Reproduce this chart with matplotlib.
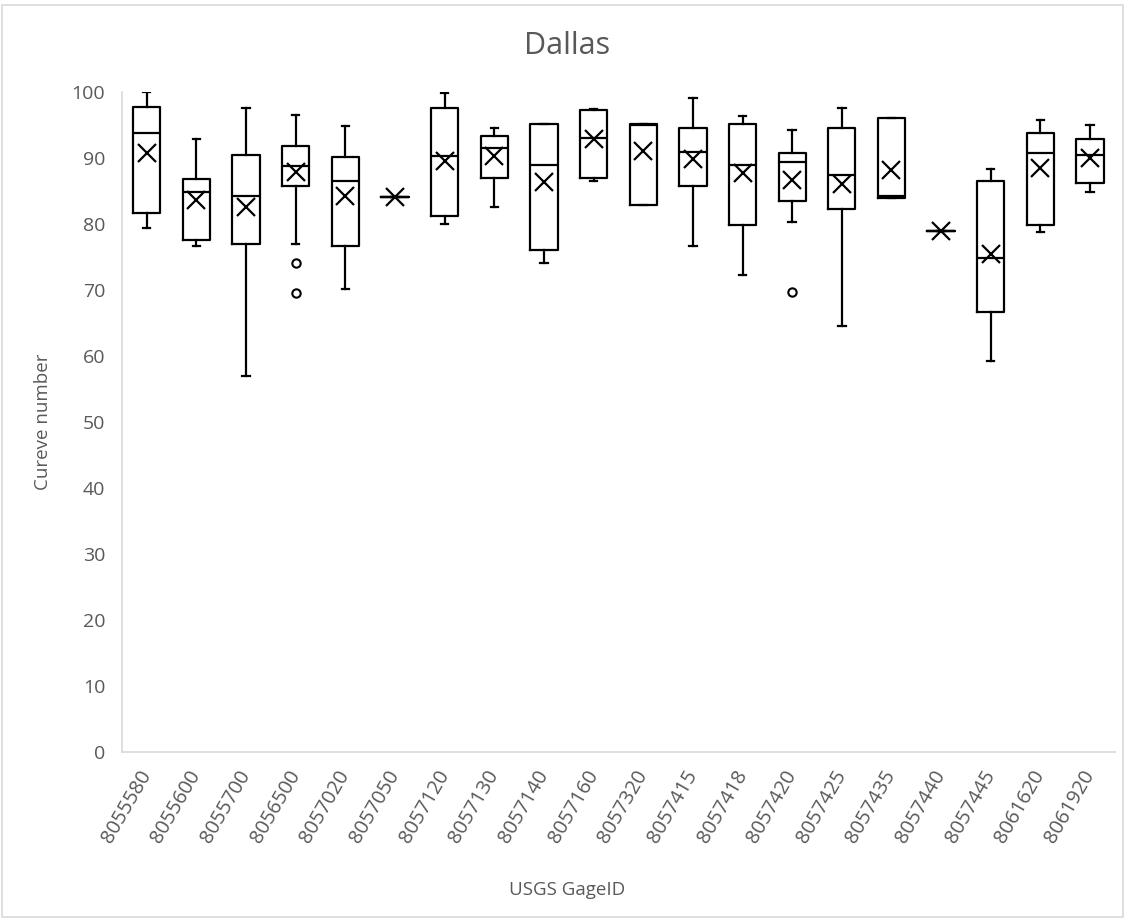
import numpy as np
import matplotlib.pyplot as plt

# USGS gage ids (categories)
gages = ['8055580', '8055600', '8055700', '8056500', '8057020', '8057050',
         '8057120', '8057130', '8057140', '8057160', '8057320', '8057415',
         '8057418', '8057420', '8057425', '8057435', '8057440', '8057445',
         '8061620', '8061920']

# box statistics
whislo = [79.4, 76.7, 57.0, 77.0, 70.1, 84.1, 80.0, 82.6, 74.1, 86.5,
          82.9, 76.7, 72.2, 80.3, 64.5, 83.9, 78.9, 59.3, 78.8, 84.8]
q1 = [81.6, 77.5, 77.0, 85.8, 76.6, 84.1, 81.2, 87.0, 76.1, 86.9,
      82.9, 85.8, 79.9, 83.4, 82.3, 83.9, 78.9, 66.6, 79.9, 86.2]
med = [93.7, 84.9, 84.2, 88.7, 86.5, 84.1, 90.3, 91.5, 88.9, 93.0,
       95.0, 90.9, 89.0, 89.4, 87.4, 84.3, 78.9, 74.9, 90.7, 90.5]
q3 = [97.7, 86.8, 90.5, 91.8, 90.2, 84.1, 97.6, 93.3, 95.2, 97.3,
      95.2, 94.5, 95.2, 90.8, 94.5, 96.0, 78.9, 86.5, 93.7, 92.9]
whishi = [100.0, 92.8, 97.6, 96.5, 94.9, 84.1, 99.9, 94.5, 95.2, 97.4,
          95.2, 99.1, 96.3, 94.2, 97.5, 96.0, 78.9, 88.3, 95.7, 95.0]
means = [90.7, 83.6, 82.6, 87.9, 84.2, 84.1, 89.5, 90.3, 86.3, 92.8,
         91.1, 89.9, 87.7, 86.7, 86.0, 88.1, 78.9, 75.5, 88.4, 90.0]
fliers = [[], [], [], [74.1, 69.6], [], [], [], [], [], [],
          [], [], [], [69.7], [], [], [], [], [], []]

stats = []
for i in range(len(gages)):
    stats.append({'label': gages[i], 'whislo': whislo[i], 'q1': q1[i],
                  'med': med[i], 'q3': q3[i], 'whishi': whishi[i],
                  'mean': means[i], 'fliers': fliers[i]})

txt = '#595959'
grey = '#D9D9D9'
plt.rcParams['font.family'] = ['Open Sans', 'DejaVu Sans']

fig = plt.figure(figsize=(11.25, 9.19), dpi=100)
fig.patches.append(plt.Rectangle((0.002, 0.002), 0.996, 0.993, transform=fig.transFigure,
                                 fill=False, edgecolor=grey, linewidth=1.2))
ax = fig.add_axes([0.1084, 0.1817, 0.8826, 0.7183])

lw = 1.6
ax.bxp(stats, positions=np.arange(1, 21), widths=0.55, capwidths=0.15,
       showmeans=True, patch_artist=False,
       boxprops=dict(color='black', linewidth=lw),
       whiskerprops=dict(color='black', linewidth=lw),
       capprops=dict(color='black', linewidth=lw),
       medianprops=dict(color='black', linewidth=lw),
       meanprops=dict(marker='x', markeredgecolor='black', markersize=12.5,
                      markeredgewidth=1.6),
       flierprops=dict(marker='o', markerfacecolor='none', markeredgecolor='black',
                       markersize=6, markeredgewidth=1.5))

ax.set_xlim(0.5, 20.5)
ax.set_ylim(0, 100)
ax.set_yticks(np.arange(0, 101, 10))
for s in ['top', 'right']:
    ax.spines[s].set_visible(False)
for s in ['left', 'bottom']:
    ax.spines[s].set_color(grey)
    ax.spines[s].set_linewidth(1.2)

ax.tick_params(axis='y', length=0, pad=12, labelsize=14, labelcolor=txt)
ax.tick_params(axis='x', length=0, pad=14, labelsize=14.5, labelcolor=txt)
plt.setp(ax.get_xticklabels(), rotation=60, ha='right', va='center',
         rotation_mode='anchor')

ax.set_title('Dallas', fontsize=22, color=txt, x=0.448, y=1.057, pad=0)
ax.set_ylabel('Cureve number', fontsize=13.5, color=txt, labelpad=14)
ax.set_xlabel('USGS GageID', fontsize=13.5, color=txt)
ax.xaxis.set_label_coords(0.448, -0.1955)

fig.savefig('out.png', dpi=100)
